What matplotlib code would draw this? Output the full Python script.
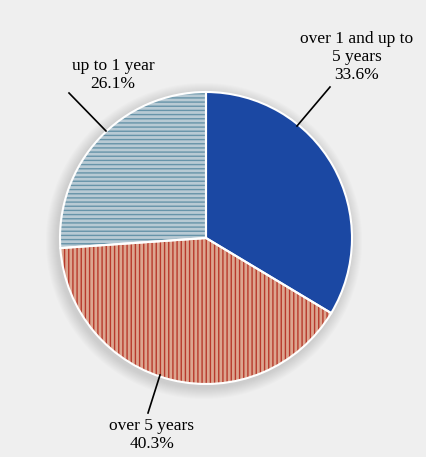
import matplotlib.pyplot as plt
from matplotlib.patches import Circle

labels = ["over 1 and up to\n5 years", "over 5 years", "up to 1 year"]
shares = [33.6, 40.3, 26.1]
faces = ["#1b48a3", "#dca58f", "#b8cad4"]
hatch_cols = ["#1b48a3", "#b83a2c", "#6794a9"]
hatches = [None, "||||", "----"]

W, H = 427, 457
fig = plt.figure(figsize=(W / 100, H / 100), dpi=100, facecolor="#efefef")
ax = fig.add_axes([0, 0, 1, 1])

cx, cy, r = 206, H - 238, 146

# soft shadow behind the pie
for k in range(12):
    ax.add_patch(Circle((cx - 2, cy - 3), r + 12 - k, color="#9a9a9a",
                        alpha=0.035, lw=0, zorder=0))

plt.rcParams["hatch.linewidth"] = 1.0
wedges, _ = ax.pie(shares, center=(cx, cy), radius=r, startangle=90,
                   counterclock=False, colors=faces, frame=True)
for w, h, hc in zip(wedges, hatches, hatch_cols):
    w.set_zorder(2)
    w.set_linewidth(0)
    if h:
        w.set_hatch(h)
        w.set_edgecolor(hc)

# white borders on top
outline, _ = ax.pie(shares, center=(cx, cy), radius=r, startangle=90,
                    counterclock=False, frame=True)
for w in outline:
    w.set_facecolor("none")
    w.set_edgecolor("white")
    w.set_linewidth(1.5)
    w.set_zorder(3)

ax.set_xlim(0, W)
ax.set_ylim(0, H)
ax.set_aspect("equal")
ax.axis("off")

font = dict(family="Liberation Serif", fontsize=12.5, ha="center",
            va="center", linespacing=1.15)
texts = [f"{l}\n{s}%" for l, s in zip(labels, shares)]
ax.text(357, H - 57, texts[0], **font)
ax.text(152, H - 435, texts[1], **font)
ax.text(113, H - 75, texts[2], **font)

ax.plot([330, 297], [H - 87, H - 126], color="black", lw=1.2, zorder=4)
ax.plot([160, 148], [H - 375, H - 413], color="black", lw=1.2, zorder=4)
ax.plot([69, 106], [H - 93, H - 131], color="black", lw=1.2, zorder=4)

fig.savefig("out.png", dpi=100, facecolor=fig.get_facecolor())
